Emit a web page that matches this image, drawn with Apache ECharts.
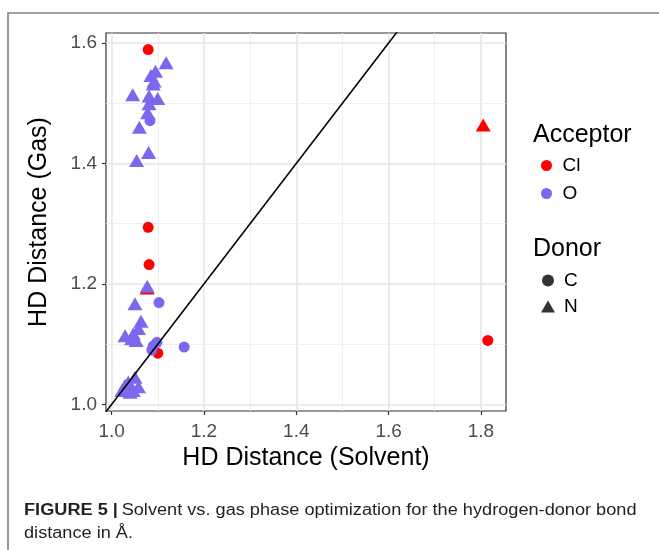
<!DOCTYPE html>
<html>
<head>
<meta charset="utf-8">
<script src="https://cdn.jsdelivr.net/npm/echarts@6/dist/echarts.min.js"></script>
<style>html,body{margin:0;padding:0;background:#fff;}#main{width:659px;height:550px;}</style>
</head>
<body>
<div id="main"></div>
<script>
// ---- data ----
// Acceptor = Cl
const clX     = [1.079, 1.079, 1.081, 1.100, 1.815, 1.805, 1.077];
const clY     = [1.589, 1.294, 1.232, 1.085, 1.106, 1.464, 1.193];
const clDonor = ['C',   'C',   'C',   'C',   'C',   'N',   'N'];
// Acceptor = O
const oX     = [1.083, 1.1025, 1.157, 1.098, 1.090, 1.087,
                1.118, 1.095, 1.085, 1.092, 1.090, 1.0455, 1.081, 1.0997, 1.081, 1.078, 1.060, 1.080, 1.054,
                1.077,
                1.0505, 1.0635, 1.058, 1.029, 1.047, 1.043, 1.053,
                1.0505, 1.036, 1.058, 1.029, 1.047, 1.022, 1.040];
const oY     = [1.471, 1.169, 1.095, 1.103, 1.097, 1.090,
                1.567, 1.553, 1.546, 1.537, 1.532, 1.514, 1.512, 1.508, 1.499, 1.484, 1.460, 1.418, 1.405,
                1.196,
                1.167, 1.138, 1.126, 1.114, 1.117, 1.109, 1.106,
                1.045, 1.037, 1.029, 1.0315, 1.023, 1.023, 1.020];
const oDonor = ['C','C','C','C','C','C',
                'N','N','N','N','N','N','N','N','N','N','N','N','N',
                'N',
                'N','N','N','N','N','N','N',
                'N','N','N','N','N','N','N'];
const acceptorNames = ['Cl', 'O'];
const donorNames = ['C', 'N'];
const xTicks = [1.0, 1.2, 1.4, 1.6, 1.8];
const xMinor = [1.1, 1.3, 1.5, 1.7];
const yTicks = [1.0, 1.2, 1.4, 1.6];
const yMinor = [1.1, 1.3, 1.5];
const identityLine = [0.9, 1.7];
const xRange = [0.9877, 1.8544];
const yRange = [0.9889, 1.6166];

const RED = '#FF0000';
const PURPLE = '#7B68EE';
const FONT = '"Liberation Sans", Arial, sans-serif';
const TRI = 'path://M7,0 L14,12 L0,12 Z';

function pts(xs, ys, donors) {
  return xs.map((x, i) => ({
    value: [x, ys[i]],
    symbol: donors[i] === 'C' ? 'circle' : 'triangle',
    symbolSize: donors[i] === 'C' ? 11 : [15, 13]
  }));
}

const gridLines = [];
xTicks.forEach(v => gridLines.push({xAxis: v, lineStyle: {width: 1.6, color: '#E6E6E6'}}));
xMinor.forEach(v => gridLines.push({xAxis: v, lineStyle: {width: 0.9, color: '#EDEDED'}}));
yTicks.forEach(v => gridLines.push({yAxis: v, lineStyle: {width: 1.6, color: '#E6E6E6'}}));
yMinor.forEach(v => gridLines.push({yAxis: v, lineStyle: {width: 0.9, color: '#EDEDED'}}));

const chart = echarts.init(document.getElementById('main'), null, {renderer: 'canvas'});
chart.setOption({
  animation: false,
  backgroundColor: '#fff',
  textStyle: {fontFamily: FONT},
  grid: {left: 106, top: 33, width: 400, height: 378, show: true, backgroundColor: '#fff',
         borderColor: '#333', borderWidth: 1.2, containLabel: false},
  xAxis: {
    type: 'value', min: xRange[0], max: xRange[1],
    name: 'HD Distance (Solvent)', nameLocation: 'middle', nameGap: 34,
    nameTextStyle: {fontSize: 25, color: '#000', fontFamily: FONT},
    axisLine: {show: false},
    axisTick: {show: true, length: 4, lineStyle: {color: '#333', width: 1.2}, customValues: xTicks},
    axisLabel: {customValues: xTicks, formatter: v => v.toFixed(1), fontSize: 19, color: '#4D4D4D', margin: 11, fontFamily: FONT},
    splitLine: {show: false}
  },
  yAxis: {
    type: 'value', min: yRange[0], max: yRange[1],
    name: 'HD Distance (Gas)', nameLocation: 'middle', nameGap: 54,
    nameTextStyle: {fontSize: 25, color: '#000', fontFamily: FONT},
    axisLine: {show: false},
    axisTick: {show: true, length: 4, lineStyle: {color: '#333', width: 1.2}, customValues: yTicks},
    axisLabel: {customValues: yTicks, formatter: v => v.toFixed(1), fontSize: 19, color: '#4D4D4D', margin: 9, fontFamily: FONT},
    splitLine: {show: false}
  },
  legend: [
    {data: acceptorNames, orient: 'vertical', left: 536, top: 151, itemWidth: 22, itemHeight: 11, itemGap: 9,
     icon: 'circle', textStyle: {fontSize: 19, color: '#000', fontFamily: FONT}, selectedMode: false},
    {data: [{name: 'C', icon: 'circle'}, {name: 'N', icon: TRI}], orient: 'vertical', left: 536, top: 266,
     itemWidth: 22, itemHeight: 12, itemGap: 7, symbolKeepAspect: true,
     textStyle: {fontSize: 19, color: '#000', fontFamily: FONT}, selectedMode: false}
  ],
  graphic: [
    {type: 'text', left: 533, top: 123, style: {text: 'Acceptor', font: '25px ' + FONT, fill: '#000'}},
    {type: 'text', left: 533, top: 237, style: {text: 'Donor', font: '25px ' + FONT, fill: '#000'}},
    {type: 'polyline', shape: {points: [[8, 560], [8, 13], [670, 13]]}, style: {stroke: '#808080', lineWidth: 1.6, fill: null}},
    {type: 'text', x: 24, y: 499, scaleX: 1.135, style: {
      rich: {b: {font: 'bold 16px ' + FONT, fill: '#231f20'}, n: {font: '16px ' + FONT, fill: '#231f20'}},
      text: '{b|FIGURE 5 |} {n|Solvent vs. gas phase optimization for the hydrogen-donor bond}\n{n|distance in Å.}',
      lineHeight: 23
    }}
  ],
  series: [
    {type: 'line', name: 'grid', data: [], silent: true, z: 1,
     markLine: {z: 1, silent: true, symbol: ['none', 'none'], label: {show: false},
                lineStyle: {color: '#EBEBEB', type: 'solid'}, data: gridLines, animation: false}},
    {type: 'scatter', name: acceptorNames[0], data: pts(clX, clY, clDonor), symbol: 'circle',
     itemStyle: {color: RED, opacity: 1}, z: 3},
    {type: 'scatter', name: acceptorNames[1], data: pts(oX, oY, oDonor), symbol: 'circle',
     itemStyle: {color: PURPLE, opacity: 1}, z: 4},
    {type: 'scatter', name: donorNames[0], data: [], symbol: 'circle', itemStyle: {color: '#000'}},
    {type: 'scatter', name: donorNames[1], data: [], symbol: TRI, itemStyle: {color: '#000'}},
    {type: 'line', name: 'y = x', data: identityLine.map(v => [v, v]), showSymbol: false, symbol: 'none',
     clip: true, silent: true, lineStyle: {color: '#000', width: 1.6}, z: 10}
  ]
});
</script>
</body>
</html>
